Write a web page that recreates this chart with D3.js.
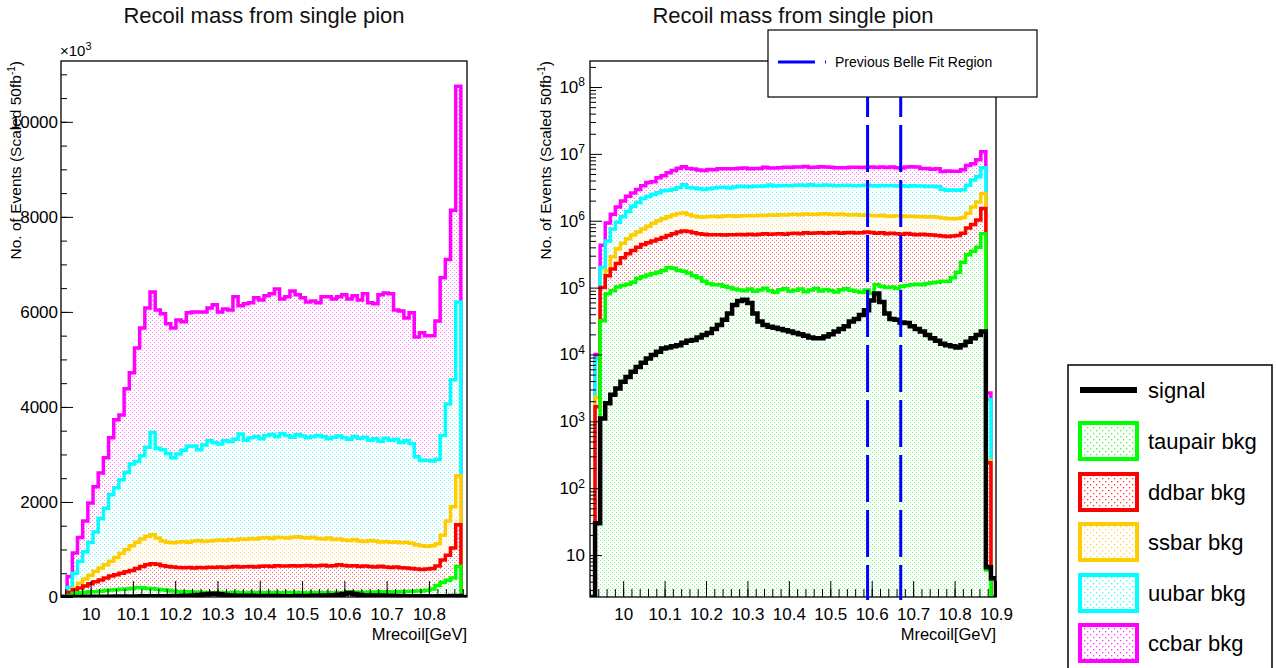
<!DOCTYPE html>
<html>
<head>
<meta charset="utf-8">
<script src="https://cdn.jsdelivr.net/npm/d3@7"></script>
<style>
  body { margin: 0; background: #fff; }
  svg { display: block; font-family: "Liberation Sans", Arial, sans-serif; }
</style>
</head>
<body>
<svg id="chart" width="1276" height="668"></svg>
<script>
// histogram binning (Mrecoil, GeV)
const xLow = 9.92, xHigh = 10.90, nBins = 80;

// stacked totals per bin, in units of 10^3 events (THStack draws cumulative sums)
const ccbarStack = [
  0, 10, 430, 925, 1250, 1600, 1980, 2320, 2610, 2930,
  3350, 3730, 3830, 4380, 4720, 5240, 5660, 6080, 6420, 6040,
  5960, 5750, 5660, 5830, 5790, 5980, 6000, 6000, 6000, 6080,
  6150, 6000, 6060, 6040, 6320, 6130, 6170, 6190, 6300, 6250,
  6340, 6380, 6480, 6270, 6320, 6440, 6360, 6300, 6210, 6230,
  6190, 6320, 6320, 6270, 6320, 6360, 6270, 6340, 6250, 6380,
  6190, 6170, 6360, 6400, 6380, 6040, 6020, 5870, 5980, 5470,
  5560, 5500, 5500, 5810, 6720, 7100, 8140, 10750, 2.65, 0
];
const uubarStack = [
  0, 8.7, 200, 500, 750, 950, 1150, 1370, 1650, 1870,
  2150, 2300, 2470, 2620, 2800, 2850, 2970, 3150, 3460, 3130,
  3100, 3020, 2930, 3010, 3090, 3170, 3180, 3100, 3200, 3290,
  3250, 3220, 3290, 3270, 3320, 3430, 3300, 3350, 3380, 3330,
  3400, 3420, 3380, 3440, 3400, 3360, 3420, 3390, 3350, 3380,
  3400, 3370, 3330, 3360, 3390, 3350, 3320, 3380, 3340, 3360,
  3300, 3330, 3280, 3340, 3300, 3320, 3250, 3290, 3230, 2950,
  2870, 2880, 2860, 2900, 3400, 4060, 4570, 6210, 2.1, 0
];
const ssbarStack = [
  0, 2.3, 60, 180, 290, 380, 460, 540, 610, 680,
  750, 830, 920, 1000, 1080, 1150, 1220, 1280, 1310, 1240,
  1180, 1150, 1140, 1160, 1170, 1150, 1180, 1190, 1170, 1180,
  1190, 1200, 1190, 1210, 1200, 1220, 1210, 1230, 1220, 1240,
  1250, 1230, 1260, 1250, 1240, 1260, 1270, 1250, 1240, 1260,
  1230, 1220, 1240, 1210, 1220, 1200, 1190, 1210, 1180, 1170,
  1190, 1180, 1160, 1170, 1150, 1160, 1140, 1150, 1130, 1100,
  1080, 1070, 1080, 1120, 1300, 1600, 1900, 2550, 0.26, 0
];
const ddbarStack = [
  0, 1.66, 100, 150, 190, 230, 280, 320, 360, 400,
  440, 470, 500, 530, 560, 600, 640, 680, 700, 690,
  660, 640, 630, 620, 615, 620, 610, 620, 615, 625,
  620, 630, 620, 630, 640, 630, 635, 640, 630, 645,
  650, 640, 660, 650, 655, 660, 650, 660, 665, 650,
  660, 670, 655, 660, 680, 665, 650, 660, 640, 650,
  640, 630, 645, 630, 620, 630, 615, 610, 600, 590,
  580, 590, 600, 650, 780, 880, 1030, 1520, 0.24, 0
];
const taupairStack = [
  0, 0.03, 32, 81, 90, 102, 108, 112, 120, 137,
  145, 155, 162, 170, 180, 200, 195, 180, 175, 165,
  150, 140, 125, 115, 110, 110, 105, 100, 95, 92,
  90, 95, 88, 92, 98, 90, 85, 93, 96, 88,
  91, 95, 87, 92, 97, 89, 94, 90, 86, 93,
  96, 91, 88, 85, 92, 82, 110, 105, 100, 102,
  98, 105, 108, 110, 112, 110, 115, 118, 120, 125,
  125, 140, 170, 240, 310, 350, 400, 640, 0.006, 0
];
const signalCounts = [
  0, 0.03, 1.1, 1.87, 2.5, 3.1, 3.9, 4.6, 5.5, 6.5,
  7.5, 8.7, 9.8, 11, 12.3, 12.7, 13.3, 13.8, 15, 16,
  16.5, 18, 19.5, 21, 24, 27.5, 33, 41, 55, 63,
  66, 59, 41, 31, 27.5, 26, 25, 24, 23, 22,
  21, 20, 19, 18, 17.5, 17.5, 18.5, 20, 22, 24,
  26.5, 31, 34, 39, 46, 64, 82, 61, 41, 34,
  33, 30, 29.5, 26.5, 24, 22, 19.5, 17.5, 16, 14.5,
  13.8, 13.3, 12.7, 13.8, 15.5, 17.5, 19.5, 22, 0.0066, 0.0045
];

const xTickLabels = ["10", "10.1", "10.2", "10.3", "10.4", "10.5", "10.6", "10.7", "10.8", "10.9"];
const linYTicks = [0, 2000, 4000, 6000, 8000, 10000];
const logYExponents = [1, 2, 3, 4, 5, 6, 7, 8];
const belleFitRegion = [10.59, 10.67];

const legendEntries = ["signal", "taupair bkg", "ddbar bkg", "ssbar bkg", "uubar bkg", "ccbar bkg"];

// drawing order of THStack: top of stack first
const layers = [
  { name: "ccbar", color: "#ff00ff", values: ccbarStack },
  { name: "uubar", color: "#00ffff", values: uubarStack },
  { name: "ssbar", color: "#ffcc00", values: ssbarStack },
  { name: "ddbar", color: "#ff0000", values: ddbarStack },
  { name: "taupair", color: "#00ff00", values: taupairStack }
];

const edges = d3.range(nBins + 1).map(i => xLow + i * (xHigh - xLow) / nBins);

const svg = d3.select("#chart");
const defs = svg.append("defs");

function dotPattern(id, color, size, dots, r, op) {
  const p = defs.append("pattern")
    .attr("id", id)
    .attr("patternUnits", "userSpaceOnUse")
    .attr("width", size)
    .attr("height", size);
  p.append("rect").attr("width", size).attr("height", size).attr("fill", "#fff");
  dots.forEach(([x, y]) => {
    p.append("rect").attr("x", x).attr("y", y).attr("width", r).attr("height", r)
      .attr("fill", color).attr("fill-opacity", op);
  });
}

layers.forEach(l => {
  dotPattern("dots-" + l.name, l.color, 4, [[0, 0], [2, 2]], 1, 0.55);
  dotPattern("leg-" + l.name, l.color, 6, [[1, 1], [4, 4]], 1.3, 0.8);
});

const panels = [
  { id: "lin", left: 61, right: 467, top: 61, bottom: 597, xDomain: [9.93, 10.89], log: false, titleX: 264, yTitleX: 21 },
  { id: "log", left: 590, right: 996, top: 61, bottom: 597, xDomain: [9.92, 10.90], log: true, titleX: 793, yTitleX: 551 }
];

const tickFont = "17px";

panels.forEach(p => {
  const x = d3.scaleLinear().domain(p.xDomain).range([p.left, p.right]);
  let y, toY, base;
  if (p.log) {
    y = d3.scaleLog().domain([2.36, 2.45e8]).range([p.bottom, p.top]).clamp(true);
    base = 2.36;
    toY = v => (v * 1000 > base ? v * 1000 : base);
  } else {
    y = d3.scaleLinear().domain([0, 11280]).range([p.bottom, p.top]);
    base = 0;
    toY = v => v;
  }

  svg.append("clipPath").attr("id", "clip-" + p.id)
    .append("rect")
    .attr("x", p.left).attr("y", p.top)
    .attr("width", p.right - p.left).attr("height", p.bottom - p.top);

  const plot = svg.append("g").attr("clip-path", `url(#clip-${p.id})`);

  const stepPoints = vals => {
    const pts = [[edges[0], base]];
    vals.forEach((v, i) => pts.push([edges[i], toY(v)]));
    pts.push([edges[nBins], toY(vals[nBins - 1])]);
    pts.push([edges[nBins], base]);
    return pts;
  };

  const line = d3.line().x(d => x(d[0])).y(d => y(d[1])).curve(d3.curveStepAfter);
  const area = d3.area().x(d => x(d[0])).y0(y(base)).y1(d => y(d[1])).curve(d3.curveStepAfter);

  layers.forEach(l => {
    const pts = stepPoints(l.values);
    plot.append("path").attr("d", area(pts)).attr("fill", `url(#dots-${l.name})`);
    plot.append("path").attr("d", line(pts))
      .attr("fill", "none").attr("stroke", l.color)
      .attr("stroke-width", 3.5).attr("stroke-linejoin", "miter");
  });

  plot.append("path").attr("d", line(stepPoints(signalCounts)))
    .attr("fill", "none").attr("stroke", "#000")
    .attr("stroke-width", 4.5).attr("stroke-linejoin", "miter");

  // x axis: minor ticks every 0.02, major every 0.1 (pointing inward)
  const minorX = d3.range(0, 60).map(i => Math.round((9.90 + i * 0.02) * 1000) / 1000)
    .filter(v => v >= p.xDomain[0] && v <= p.xDomain[1]);
  const labelVals = xTickLabels.map(Number);
  const majorX = labelVals.filter(v => v >= p.xDomain[0] && v <= p.xDomain[1] + 1e-9);

  const gxMinor = svg.append("g").attr("transform", `translate(0,${p.bottom})`)
    .call(d3.axisBottom(x).tickValues(minorX).tickSize(-8).tickSizeOuter(0).tickFormat(""));
  gxMinor.select(".domain").remove();
  gxMinor.selectAll("line").attr("stroke", "#000");

  const gx = svg.append("g").attr("transform", `translate(0,${p.bottom})`)
    .call(d3.axisBottom(x).tickValues(majorX).tickSize(-16).tickSizeOuter(0).tickPadding(11)
      .tickFormat(d => xTickLabels[labelVals.indexOf(d)]));
  gx.select(".domain").remove();
  gx.selectAll("text").attr("font-size", tickFont).attr("font-family", null).attr("fill", "#000");
  gx.selectAll("line").attr("stroke", "#000");

  // y axis
  if (p.log) {
    const minorY = [];
    for (let e = 0; e <= 8; e++) {
      for (let k = 2; k <= 9; k++) {
        const v = k * Math.pow(10, e);
        if (v > 2.36 && v < 2.45e8) minorY.push(v);
      }
    }
    const gyMinor = svg.append("g").attr("transform", `translate(${p.left},0)`)
      .call(d3.axisLeft(y).tickValues(minorY).tickSize(-6).tickSizeOuter(0).tickFormat(""));
    gyMinor.select(".domain").remove();
    gyMinor.selectAll("line").attr("stroke", "#000");

    const majorY = logYExponents.map(e => Math.pow(10, e));
    const gy = svg.append("g").attr("transform", `translate(${p.left},0)`)
      .call(d3.axisLeft(y).tickValues(majorY).tickSize(-12).tickSizeOuter(0).tickPadding(5).tickFormat(""));
    gy.select(".domain").remove();
    gy.selectAll("line").attr("stroke", "#000");
    gy.selectAll(".tick text").each(function (d) {
      const e = Math.round(Math.log10(d));
      const t = d3.select(this).attr("font-size", tickFont).attr("font-family", null).attr("fill", "#000");
      t.append("tspan").text("10");
      if (e !== 1) t.append("tspan").attr("dy", "-0.55em").attr("font-size", "12px").text(e);
    });
  } else {
    const minorY = d3.range(0, 23).map(i => i * 500).filter(v => v <= 11280);
    const gyMinor = svg.append("g").attr("transform", `translate(${p.left},0)`)
      .call(d3.axisLeft(y).tickValues(minorY).tickSize(-6).tickSizeOuter(0).tickFormat(""));
    gyMinor.select(".domain").remove();
    gyMinor.selectAll("line").attr("stroke", "#000");

    const gy = svg.append("g").attr("transform", `translate(${p.left},0)`)
      .call(d3.axisLeft(y).tickValues(linYTicks).tickSize(-12).tickSizeOuter(0).tickPadding(3).tickFormat(d3.format("d")));
    gy.select(".domain").remove();
    gy.selectAll("line").attr("stroke", "#000");
    gy.selectAll("text").attr("font-size", tickFont).attr("font-family", null).attr("fill", "#000");

    const mult = svg.append("text").attr("x", p.left - 1).attr("y", 56).attr("font-size", "15px");
    mult.append("tspan").text("\u00d710");
    mult.append("tspan").attr("dy", "-6").attr("font-size", "11px").text("3");
  }

  // frame
  svg.append("rect")
    .attr("x", p.left).attr("y", p.top)
    .attr("width", p.right - p.left).attr("height", p.bottom - p.top)
    .attr("fill", "none").attr("stroke", "#000").attr("stroke-width", 1.3);

  // titles
  svg.append("text").attr("x", p.titleX).attr("y", 23)
    .attr("text-anchor", "middle").attr("font-size", "22px").attr("fill", "#111")
    .text("Recoil mass from single pion");

  svg.append("text").attr("x", p.right).attr("y", 640)
    .attr("text-anchor", "end").attr("font-size", "16.5px")
    .text("Mrecoil[GeV]");

  const yt = svg.append("text")
    .attr("transform", `translate(${p.yTitleX},${p.top}) rotate(-90)`)
    .attr("text-anchor", "end").attr("font-size", "15.5px");
  yt.append("tspan").text("No. of Events (Scaled 50fb");
  yt.append("tspan").attr("dy", "-6").attr("font-size", "10px").text("-1");
  yt.append("tspan").attr("dy", "6").text(")");

  if (p.log) {
    belleFitRegion.forEach(v => {
      svg.append("line")
        .attr("x1", x(v)).attr("x2", x(v))
        .attr("y1", p.top).attr("y2", p.bottom + 3)
        .attr("stroke", "#0000ff").attr("stroke-width", 3)
        .attr("stroke-dasharray", "47,8").attr("stroke-dashoffset", 46);
    });
  }
});

// "Previous Belle Fit Region" legend
const belleLeg = svg.append("g");
belleLeg.append("rect").attr("x", 768).attr("y", 30).attr("width", 269).attr("height", 67)
  .attr("fill", "#fff").attr("stroke", "#000").attr("stroke-width", 1.2);
belleLeg.append("line").attr("x1", 778).attr("x2", 828).attr("y1", 62).attr("y2", 62)
  .attr("stroke", "#0000ff").attr("stroke-width", 3).attr("stroke-dasharray", "37,10,1,50");
belleLeg.append("text").attr("x", 835).attr("y", 62).attr("dy", "0.35em")
  .attr("font-size", "14px").text("Previous Belle Fit Region");

// sample legend
const leg = svg.append("g");
leg.append("rect").attr("x", 1068).attr("y", 365).attr("width", 204).attr("height", 320)
  .attr("fill", "#fff").attr("stroke", "#000").attr("stroke-width", 1.5);

const legRows = [390, 441, 492, 542, 593, 643];
const legLayers = ["taupair", "ddbar", "ssbar", "uubar", "ccbar"];
const legColors = { taupair: "#00ff00", ddbar: "#ff0000", ssbar: "#ffcc00", uubar: "#00ffff", ccbar: "#ff00ff" };

leg.append("line").attr("x1", 1080).attr("x2", 1137).attr("y1", legRows[0]).attr("y2", legRows[0])
  .attr("stroke", "#000").attr("stroke-width", 6);
legLayers.forEach((name, i) => {
  leg.append("rect").attr("x", 1080).attr("y", legRows[i + 1] - 18).attr("width", 57).attr("height", 36)
    .attr("fill", `url(#leg-${name})`).attr("stroke", legColors[name]).attr("stroke-width", 4);
});
legendEntries.forEach((t, i) => {
  leg.append("text").attr("x", 1148).attr("y", legRows[i]).attr("dy", "0.35em")
    .attr("font-size", "22px").text(t);
});
</script>
</body>
</html>
